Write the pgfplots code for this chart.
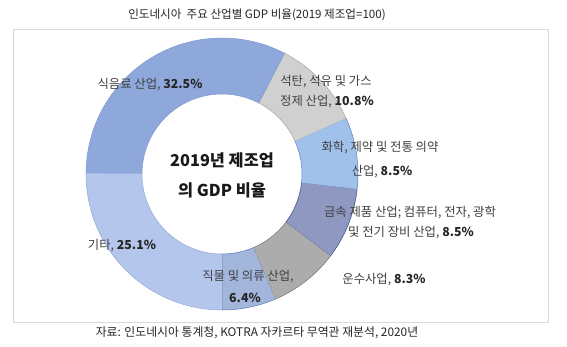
\documentclass[border=0pt]{standalone}
\usepackage{pgfplots}
\pgfplotsset{compat=1.18}
\usepackage{fontspec}
\setmainfont{Noto Sans CJK KR}
\definecolor{cFood}{RGB}{143,168,220}
\definecolor{dFood}{RGB}{125,150,205}
\definecolor{cCoal}{RGB}{208,208,208}
\definecolor{dCoal}{RGB}{165,165,165}
\definecolor{cChem}{RGB}{160,194,234}
\definecolor{dChem}{RGB}{95,125,185}
\definecolor{cMetal}{RGB}{142,152,192}
\definecolor{dMetal}{RGB}{60,75,125}
\definecolor{cTrans}{RGB}{172,172,172}
\definecolor{dTrans}{RGB}{115,115,115}
\definecolor{cText}{RGB}{162,182,220}
\definecolor{dText}{RGB}{90,120,180}
\definecolor{cOther}{RGB}{180,198,236}
\definecolor{dOther}{RGB}{150,170,215}
\definecolor{lab}{RGB}{64,64,64}
\definecolor{val}{RGB}{38,38,38}
% share of each industry (%), clockwise from the coal slice
\def\vCoal{10.8}\def\vChem{8.5}\def\vMetal{8.5}\def\vTrans{8.3}\def\vTextile{6.4}\def\vOther{25.1}\def\vFood{32.5}
\def\cx{222}\def\cy{174}\def\Ro{136}\def\Ri{80}\def\startang{27}
\def\cum{0}
\newcommand\slice[3]{%
  \pgfmathsetmacro\aA{\cum*3.6+\startang}%
  \pgfmathsetmacro\dd{#1*3.6}%
  \pgfmathsetmacro\newcum{\cum+#1}%
  \global\let\cum\newcum
  \edef\temp{\noexpand\addplot[fill=#2, draw=#3, line width=0.5pt, line join=round, domain=0:2, samples=161]
   ({\cx+((x<=1.00001)?\Ro:\Ri)*sin((x<=1.00001)?(\aA+\dd*min(x,1)):(\aA+\dd*max(0,(2-x)/0.9875)))},
    {\cy-((x<=1.00001)?\Ro:\Ri)*cos((x<=1.00001)?(\aA+\dd*min(x,1)):(\aA+\dd*max(0,(2-x)/0.9875)))});}%
  \temp
}
\newcommand\lf{\fontsize{12.4}{14}\selectfont}
\newcommand\tf{\fontsize{11.6}{13}\selectfont}
\begin{document}
\begin{tikzpicture}
\begin{axis}[scale only axis, width=567bp, height=347bp,
  xmin=0, xmax=567, ymin=0, ymax=347, y dir=reverse,
  hide axis, clip=false]
\fill[white] (axis cs:0,0) rectangle (axis cs:567,347);
\draw[black!15, line width=0.8pt] (axis cs:13,29) rectangle (axis cs:548,322);
\slice{\vCoal}{cCoal}{dCoal}
\slice{\vChem}{cChem}{dChem}
\slice{\vMetal}{cMetal}{dMetal}
\slice{\vTrans}{cTrans}{dTrans}
\slice{\vTextile}{cText}{dText}
\slice{\vOther}{cOther}{dOther}
\slice{\vFood}{cFood}{dFood}
% title and source
\node[font=\tf, text=black!85] at (axis cs:257,15) {인도네시아\ \ 주요 산업별 GDP 비율(2019 제조업=100)};
\node[font=\fontsize{11.9}{13}\selectfont, text=black!85] at (axis cs:257,333) {자료: 인도네시아 통계청, KOTRA 자카르타 무역관 재분석, 2020년};
% centre
\node[font=\fontsize{16.4}{18}\selectfont\bfseries, text=black!90] at (axis cs:222,160) {2019년 제조업};
\node[font=\fontsize{16.4}{18}\selectfont\bfseries, text=black!90] at (axis cs:222,190) {의 GDP 비율};
% labels
\node[font=\lf, text=lab] at (axis cs:150,85) {식음료 산업, \textcolor{val}{\textbf{32.5\%}}};
\node[font=\lf, text=lab] at (axis cs:326,82) {석탄, 석유 및 가스};
\node[font=\lf, text=lab] at (axis cs:327,102) {정제 산업, \textcolor{val}{\textbf{10.8\%}}};
\node[font=\lf, text=lab] at (axis cs:380,148) {화학, 제약 및 전통 의약};
\node[font=\lf, text=lab] at (axis cs:382,172) {산업, \textcolor{val}{\textbf{8.5\%}}};
\node[font=\lf, text=lab] at (axis cs:410,213) {금속 제품 산업; 컴퓨터, 전자, 광학};
\node[font=\lf, text=lab] at (axis cs:411,233) {및 전기 장비 산업, \textcolor{val}{\textbf{8.5\%}}};
\node[font=\lf, text=lab] at (axis cs:384,280) {운수사업, \textcolor{val}{\textbf{8.3\%}}};
\node[font=\lf, text=lab] at (axis cs:248,277) {직물 및 의류 산업,};
\node[font=\lf, text=lab] at (axis cs:245,298) {\textcolor{val}{\textbf{6.4\%}}};
\node[font=\lf, text=lab] at (axis cs:122,246) {기타, \textcolor{val}{\textbf{25.1\%}}};
\end{axis}
\end{tikzpicture}
\end{document}
